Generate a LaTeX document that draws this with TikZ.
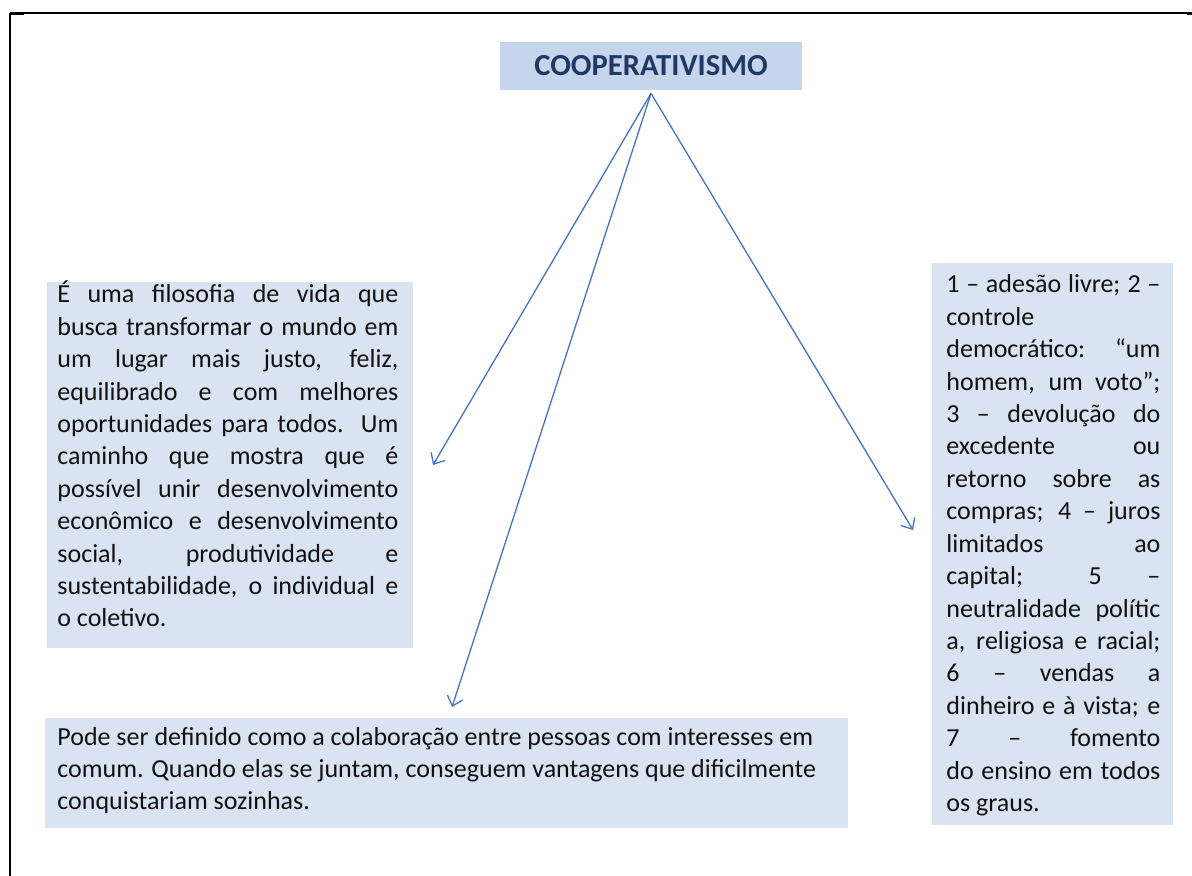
\documentclass[tikz,border=0pt]{standalone}
\usepackage{fontspec}
\setmainfont{Carlito}
\usetikzlibrary{arrows.meta}
\definecolor{boxfill}{HTML}{DAE3F1}
\definecolor{titlefill}{HTML}{C5D5EC}
\definecolor{navy}{HTML}{1F3864}
\definecolor{arrowblue}{HTML}{4472C4}
\definecolor{textcol}{HTML}{111111}
\newcommand\jline[1]{\makebox[\linewidth][s]{#1}\\}
\tikzset{
  cbox/.style={fill=boxfill, draw=none, inner sep=0pt, anchor=north west},
  titlebox/.style={fill=titlefill, draw=none, inner sep=0pt, text=navy,
    font=\fontsize{15.3pt}{18pt}\selectfont\bfseries},
  txt/.style={inner sep=0pt, anchor=base west, text=textcol},
  arr/.style={draw=arrowblue, line width=0.65pt,
    -{Straight Barb[length=4.5pt,width=8pt,line width=0.65pt]}},
  frameline/.style={draw=black}
}
\begin{document}
\begin{tikzpicture}[x=0.5pt,y=-0.5pt]
\useasboundingbox (0,0) rectangle (1192,876);
% frame
\draw[frameline, line width=0.6pt] (10,13) -- (1192,13);
\draw[frameline, line width=1pt] (10,13) -- (10,876);
\draw[frameline, line width=1.2pt] (10,13.6) -- (24,13.6);
\draw[frameline, line width=1.2pt] (1187,13.6) -- (1192,13.6);
% boxes
\node[titlebox, minimum width=151pt, minimum height=24pt] (title) at (651,66) {COOPERATIVISMO};
\node[cbox, minimum width=183pt, minimum height=183pt] (leftbox) at (47,282) {};
\node[cbox, minimum width=401.5pt, minimum height=55pt] (bottombox) at (45,718) {};
\node[cbox, minimum width=120.5pt, minimum height=281pt] (rightbox) at (932,263) {};
% texts
\node[txt] (lefttext) at (57,303) {\parbox[t]{170.5pt}{\fontsize{13pt}{16.2pt}\selectfont
\jline{É uma filosofia de vida que}
\jline{busca transformar o mundo em}
\jline{um lugar mais justo, feliz,}
\jline{equilibrado e com melhores}
\jline{oportunidades para todos. Um}
\jline{caminho que mostra que é}
\jline{possível unir desenvolvimento}
\jline{econômico e desenvolvimento}
\jline{social, produtividade e}
\jline{sustentabilidade, o individual e}
o coletivo.}};
\node[txt] (righttext) at (946,293) {\parbox[t]{107pt}{\fontsize{13pt}{16.2pt}\selectfont
\jline{1 – adesão livre; 2 –}
\jline{controle}
\jline{democrático: “um}
\jline{homem, um voto”;}
\jline{3 – devolução do}
\jline{excedente ou}
\jline{retorno sobre as}
\jline{compras; 4 – juros}
\jline{limitados ao}
\jline{capital; 5 –}
\jline{neutralidade polític}
\jline{a, religiosa e racial;}
\jline{6 – vendas a}
\jline{dinheiro e à vista; e}
\jline{7 – fomento}
\jline{do ensino em todos}
os graus.}};
\node[txt] (bottomtext) at (57,745) {\parbox[t]{390pt}{\fontsize{13pt}{16pt}\selectfont
Pode ser definido como a colaboração entre pessoas com interesses em\\
comum. Quando elas se juntam, conseguem vantagens que dificilmente\\
conquistariam sozinhas.}};
% connectors
\coordinate (src) at ([yshift=-1.5pt]title.south);
\coordinate (tipL) at (433,465);
\coordinate (tipB) at (452,707);
\coordinate (tipR) at (913,530);
\draw[arr] (src) -- (tipL);
\draw[arr] (src) -- (tipB);
\draw[arr] (src) -- (tipR);
\end{tikzpicture}
\end{document}
